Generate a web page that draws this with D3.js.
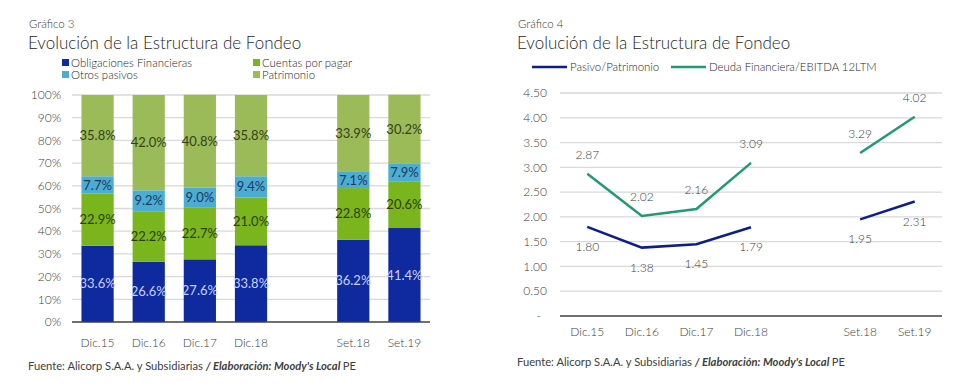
<!DOCTYPE html>
<html lang="es">
<head>
  <meta charset="UTF-8">
  <title>Evolución de la Estructura de Fondeo</title>
  <script src="https://d3js.org/d3.v7.min.js"></script>
  <style>
    body { margin: 0; background: #fff; }
    svg { display: block; font-family: "Lato", "Open Sans", sans-serif; font-weight: 300; }
    .grid line { stroke: #d9d9d9; stroke-width: 1.3; }
    .tick-label { fill: #404040; font-size: 12px; }
    .title-small { fill: #404040; font-size: 11.5px; }
    .title { fill: #262626; font-size: 17px; }
    .legend { fill: #262626; font-size: 11.4px; }
    .foot { fill: #404040; font-size: 11.2px; font-family: "Liberation Sans Narrow", "Lato", sans-serif; font-weight: normal; }
  </style>
</head>
<body>
<svg id="chart" width="980" height="390"></svg>
<script>
  // ---- data: Gráfico 3 (stacked %) ----
  const categories = ["Dic.15", "Dic.16", "Dic.17", "Dic.18", "", "Set.18", "Set.19"];
  const barCats = ["Dic.15", "Dic.16", "Dic.17", "Dic.18", "Set.18", "Set.19"];
  const obligaciones = [33.6, 26.6, 27.6, 33.8, 36.2, 41.4];
  const cuentas = [22.9, 22.2, 22.7, 21.0, 22.8, 20.6];
  const otros = [7.7, 9.2, 9.0, 9.4, 7.1, 7.9];
  const patrimonio = [35.8, 42.0, 40.8, 35.8, 33.9, 30.2];
  const pctTicks = [0, 10, 20, 30, 40, 50, 60, 70, 80, 90, 100];

  // ---- data: Gráfico 4 (ratios) ----
  const pasivoPatrimonio = [1.80, 1.38, 1.45, 1.79, 1.95, 2.31];
  const deudaEbitda = [2.87, 2.02, 2.16, 3.09, 3.29, 4.02];
  const ratioTicks = [0, 0.5, 1, 1.5, 2, 2.5, 3, 3.5, 4, 4.5];

  const svg = d3.select("#chart");

  const seriesInfo = [
    { key: "Obligaciones Financieras", values: obligaciones, color: "#0f2a9e", text: "#c9d2ff" },
    { key: "Cuentas por pagar", values: cuentas, color: "#7ab51d", text: "#2b3d0c" },
    { key: "Otros pasivos", values: otros, color: "#4badd3", text: "#1d3a5c" },
    { key: "Patrimonio", values: patrimonio, color: "#9bbb59", text: "#34421a" }
  ];

  // ================= Left chart =================
  const L = { left: 72, right: 430, top: 95, bottom: 322 };
  const xL = d3.scaleBand().domain(categories).range([L.left, L.right]).paddingInner(0.37).paddingOuter(0.185);
  const yL = d3.scaleLinear().domain([0, 100]).range([L.bottom, L.top]);

  const g1 = svg.append("g");
  g1.append("text").attr("class", "title-small").attr("x", 29).attr("y", 28).text("Gráfico 3");
  g1.append("text").attr("class", "title").attr("x", 28).attr("y", 49).text("Evolución de la Estructura de Fondeo");

  // legend
  const legPos = [[62, 67], [253, 67], [62, 79], [253, 79]];
  seriesInfo.forEach((s, i) => {
    const lg = g1.append("g").attr("transform", `translate(${legPos[i][0]},${legPos[i][1]})`);
    lg.append("rect").attr("x", 0).attr("y", -8).attr("width", 7).attr("height", 7).attr("fill", s.color);
    lg.append("text").attr("class", "legend").attr("x", 9).attr("y", 0).text(s.key);
  });

  // grid
  g1.append("g").attr("class", "grid")
    .selectAll("line").data(pctTicks.slice(1)).join("line")
    .attr("x1", L.left).attr("x2", L.right)
    .attr("y1", d => yL(d)).attr("y2", d => yL(d));

  g1.selectAll(".ylab").data(pctTicks).join("text")
    .attr("class", "tick-label").attr("text-anchor", "end")
    .attr("x", 61).attr("y", d => yL(d)).attr("dy", "0.35em")
    .text(d => d + "%");

  // stacked bars
  const rows = barCats.map((c, i) => {
    const r = { cat: c };
    seriesInfo.forEach(s => r[s.key] = s.values[i]);
    return r;
  });
  const stack = d3.stack().keys(seriesInfo.map(s => s.key))(rows);
  stack.forEach((layer, li) => {
    const s = seriesInfo[li];
    const lg = g1.append("g");
    lg.selectAll("rect").data(layer).join("rect")
      .attr("x", d => xL(d.data.cat))
      .attr("width", xL.bandwidth())
      .attr("y", d => yL(d[1]))
      .attr("height", d => yL(d[0]) - yL(d[1]))
      .attr("fill", s.color);
    lg.selectAll("text").data(layer).join("text")
      .attr("x", d => xL(d.data.cat) + xL.bandwidth() / 2)
      .attr("y", d => yL((d[0] + d[1]) / 2))
      .attr("dy", "0.35em")
      .attr("text-anchor", "middle")
      .attr("font-size", "13px")
      .attr("font-weight", 400)
      .attr("fill", s.text)
      .text(d => (d[1] - d[0]).toFixed(1) + "%");
  });

  g1.append("line").attr("x1", L.left).attr("x2", L.right)
    .attr("y1", L.bottom).attr("y2", L.bottom)
    .attr("stroke", "#404040").attr("stroke-width", 1.3);

  g1.selectAll(".xlab").data(barCats).join("text")
    .attr("class", "tick-label").attr("text-anchor", "middle")
    .attr("x", d => xL(d) + xL.bandwidth() / 2).attr("y", 347)
    .text(d => d);

  const foot1 = g1.append("text").attr("class", "foot").attr("x", 28).attr("y", 370);
  foot1.append("tspan").text("Fuente: Alicorp S.A.A. y Subsidiarias ");
  foot1.append("tspan").attr("font-weight", "bold").attr("font-style", "italic").text("/ Elaboración: Moody's Local ");
  foot1.append("tspan").text("PE");

  // ================= Right chart =================
  const R = { left: 560, right: 942, top: 93, bottom: 316 };
  const xR = d3.scalePoint().domain(categories).range([R.left, R.right]).padding(0.5);
  const yR = d3.scaleLinear().domain([0, 4.5]).range([R.bottom, R.top]);

  const g2 = svg.append("g");
  g2.append("text").attr("class", "title-small").attr("x", 518).attr("y", 28).text("Gráfico 4");
  g2.append("text").attr("class", "title").attr("x", 517).attr("y", 49).text("Evolución de la Estructura de Fondeo");

  const lineSeries = [
    { key: "Pasivo/Patrimonio", values: pasivoPatrimonio, color: "#0d1e8c", dy: 24, lx: 532 },
    { key: "Deuda Financiera/EBITDA 12LTM", values: deudaEbitda, color: "#1f9a72", dy: -15, lx: 671 }
  ];

  lineSeries.forEach(s => {
    g2.append("line").attr("x1", s.lx).attr("x2", s.lx + 35).attr("y1", 67).attr("y2", 67)
      .attr("stroke", s.color).attr("stroke-width", 2.5);
    g2.append("text").attr("class", "legend").attr("x", s.lx + 38).attr("y", 71).text(s.key);
  });

  g2.append("g").attr("class", "grid")
    .selectAll("line").data(ratioTicks.slice(1)).join("line")
    .attr("x1", R.left).attr("x2", R.right)
    .attr("y1", d => yR(d)).attr("y2", d => yR(d));

  g2.selectAll(".ylab").data(ratioTicks).join("text")
    .attr("class", "tick-label").attr("text-anchor", "end")
    .attr("x", d => d === 0 ? 541 : 547).attr("y", d => yR(d)).attr("dy", "0.35em")
    .text(d => d === 0 ? "-" : d.toFixed(2));

  g2.append("line").attr("x1", R.left).attr("x2", R.right)
    .attr("y1", R.bottom).attr("y2", R.bottom)
    .attr("stroke", "#404040").attr("stroke-width", 1.3);

  const line = d3.line().x(d => xR(d.cat)).y(d => yR(d.v));
  lineSeries.forEach(s => {
    const pts = barCats.map((c, i) => ({ cat: c, v: s.values[i] }));
    [pts.slice(0, 4), pts.slice(4)].forEach(seg => {
      g2.append("path").attr("d", line(seg))
        .attr("fill", "none").attr("stroke", s.color).attr("stroke-width", 2.5);
    });
    g2.selectAll(null).data(pts).join("text")
      .attr("class", "tick-label").attr("text-anchor", "middle")
      .attr("x", d => xR(d.cat)).attr("y", d => yR(d.v) + s.dy)
      .text(d => d.v.toFixed(2));
  });

  g2.selectAll(".xlab").data(barCats).join("text")
    .attr("class", "tick-label").attr("text-anchor", "middle")
    .attr("x", d => xR(d)).attr("y", 336)
    .text(d => d);

  const foot2 = g2.append("text").attr("class", "foot").attr("x", 517).attr("y", 366);
  foot2.append("tspan").text("Fuente: Alicorp S.A.A. y Subsidiarias ");
  foot2.append("tspan").attr("font-weight", "bold").attr("font-style", "italic").text("/ Elaboración: Moody's Local ");
  foot2.append("tspan").text("PE");
</script>
</body>
</html>
